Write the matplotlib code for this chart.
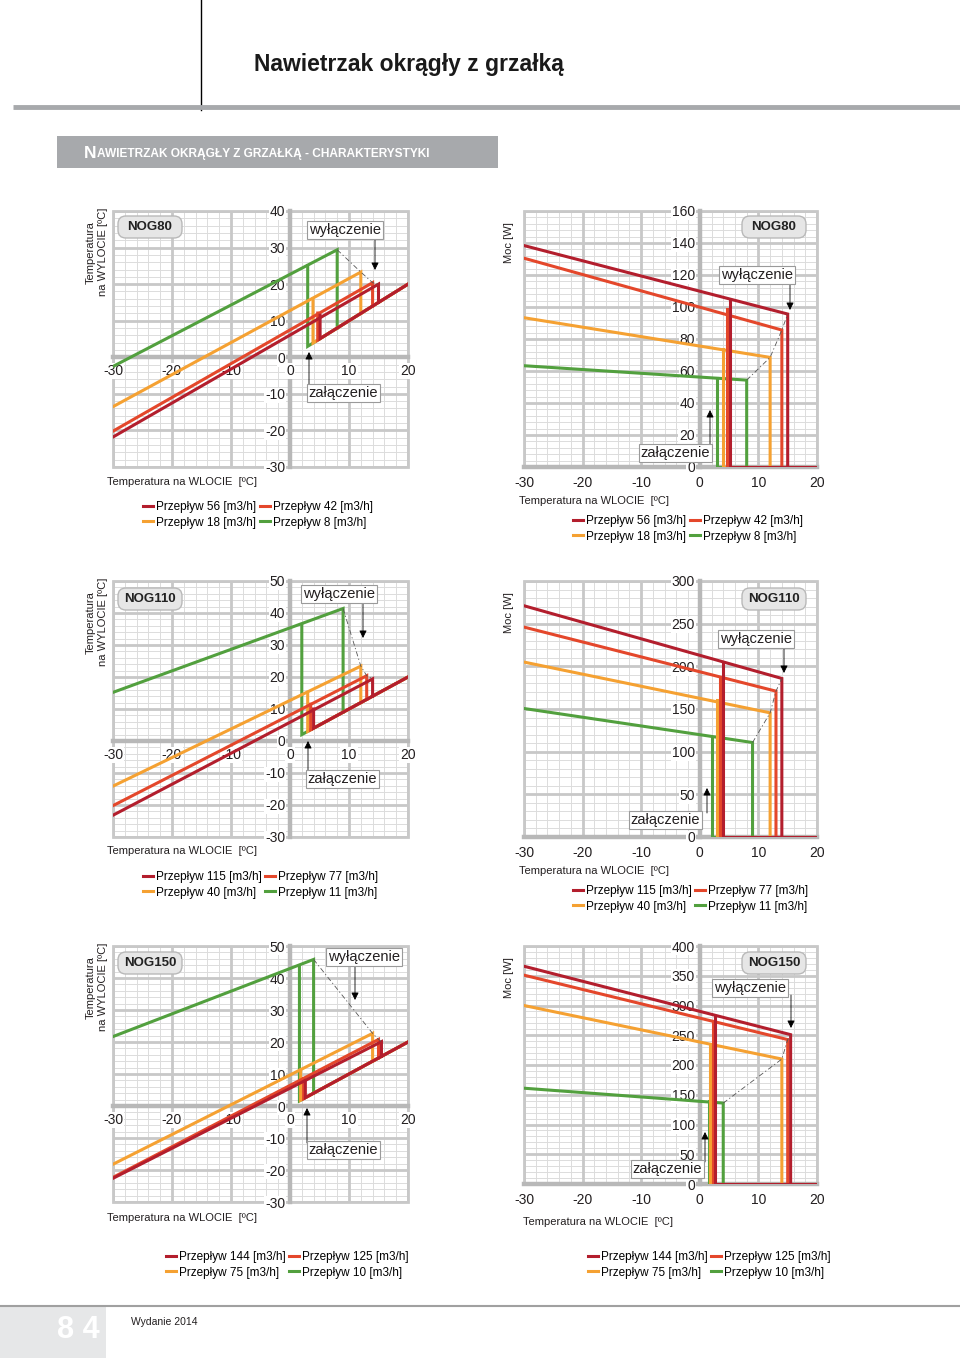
import matplotlib
matplotlib.use("Agg")
import numpy as np
import matplotlib.pyplot as plt
from matplotlib.lines import Line2D
from matplotlib.patches import Rectangle, FancyBboxPatch
from matplotlib.ticker import MultipleLocator

plt.rcParams['font.family'] = ['Liberation Sans', 'DejaVu Sans']
plt.rcParams['axes.unicode_minus'] = False

W, H = 960, 1358

# series colours: flow high -> low
colors = ['#b31e2d', '#e4472b', '#f5a132', '#52a03e']

# NOG80
nog80_flow = [56, 42, 18, 8]
nog80_on = [5.1, 4.7, 3.9, 3.0]      # heater switch-on inlet temp
nog80_off = [15.0, 14.0, 12.0, 8.0]  # heater switch-off inlet temp
nog80_t_start = [-21.8, -20.2, -13.5, -2.5]
nog80_t_off = [20.0, 20.4, 23.3, 29.4]
nog80_t_on = [11.5, 12.1, 16.0, 25.1]
nog80_p_start = [138.4, 130.5, 93.3, 63.3]
nog80_p_off = [95.6, 85.6, 68.5, 54.3]
nog80_p_on = [104.4, 99.0, 73.7, 55.7]

# NOG110
nog110_flow = [115, 77, 40, 11]
nog110_on = [4.0, 3.5, 3.0, 2.0]
nog110_off = [14.0, 13.0, 12.0, 9.0]
nog110_t_start = [-23.2, -20.2, -14.1, 15.2]
nog110_t_off = [19.4, 20.4, 23.4, 41.4]
nog110_t_on = [10.0, 11.5, 15.2, 36.4]
nog110_p_start = [271, 246, 205, 150.6]
nog110_p_off = [185.8, 170.9, 145.5, 110.7]
nog110_p_on = [204.5, 186.5, 160.3, 117.3]

# NOG150
nog150_flow = [144, 125, 75, 10]
nog150_on = [2.6, 2.3, 1.8, 1.6]
nog150_off = [15.5, 15.0, 14.0, 4.0]
nog150_t_start = [-22.6, -22.3, -18.2, 21.7]
nog150_t_off = [20.1, 20.8, 22.7, 45.8]
nog150_t_on = [8.0, 8.6, 11.2, 43.5]
nog150_p_start = [366, 351, 300, 161]
nog150_p_off = [251, 242.7, 210, 136]
nog150_p_on = [282, 273.6, 234, 138.8]

X_MIN, X_MAX = -30, 20
X_LABEL = 'Temperatura na WLOCIE  [ºC]'
Y_LABEL_T = 'Temperatura\nna WYLOCIE [ºC]'
Y_LABEL_P = 'Moc [W]'
GRID = '#c8c8c8'
GRID_MINOR = '#dcdcdc'

fig = plt.figure(figsize=(W / 100, H / 100), dpi=100)


def px_axes(x, y, w, h):
    return fig.add_axes([x / W, 1 - (y + h) / H, w / W, h / H])


def P(x, y):
    return (x / W, 1 - y / H)


def style_axes(ax, ylim, ystep, xpad):
    ax.set_xlim(X_MIN, X_MAX)
    ax.set_ylim(*ylim)
    ax.xaxis.set_major_locator(MultipleLocator(10))
    ax.yaxis.set_major_locator(MultipleLocator(ystep))
    # grid drawn by hand so that tick labels (with white boxes) sit on top of it
    for v in np.arange(X_MIN, X_MAX + 0.01, 2):
        major = abs(v % 10) < 1e-6
        ax.axvline(v, color=GRID if major else GRID_MINOR, lw=2.0 if major else 0.7,
                   zorder=0.7 if major else 0.6)
    for v in np.arange(ylim[0], ylim[1] + 0.01, ystep / 5):
        major = abs(v % ystep) < 1e-6
        ax.axhline(v, color=GRID if major else GRID_MINOR, lw=2.0 if major else 0.7,
                   zorder=0.7 if major else 0.6)
    ax.spines['top'].set_visible(False)
    ax.spines['right'].set_visible(False)
    for s in ['left', 'bottom']:
        ax.spines[s].set_position(('data', 0))
        ax.spines[s].set_color('#b8b8b8')
        ax.spines[s].set_linewidth(3.2)
    ax.xaxis.set_zorder(2.6)
    ax.yaxis.set_zorder(2.6)
    ax.add_patch(Rectangle((0, 0), 1, 1, transform=ax.transAxes, fill=False,
                           ec=GRID, lw=2.0, clip_on=False, zorder=0.8))
    ax.tick_params(which='both', length=0, labelsize=10, colors='#231f20')
    ax.tick_params(axis='x', pad=xpad)
    ax.tick_params(axis='y', pad=3.5)
    for t in ax.get_xticklabels() + ax.get_yticklabels():
        t.set_bbox(dict(facecolor='white', edgecolor='none', pad=0.6))


def draw_temp(ax, on, off, start, y_off, y_on):
    for i in reversed(range(4)):
        ax.plot([X_MIN, off[i], off[i]], [start[i], y_off[i], off[i]],
                color=colors[i], lw=2.2, zorder=3, solid_joinstyle='miter')
        ax.plot([on[i], on[i], X_MAX], [y_on[i], on[i], X_MAX],
                color=colors[i], lw=2.2, zorder=3, solid_joinstyle='miter')
    ax.plot(off[::-1], y_off[::-1], color='#555555', lw=0.6, ls=(0, (6, 3, 1.5, 3)), zorder=4)


def draw_power(ax, on, off, start, p_off, p_on):
    for i in reversed(range(4)):
        ax.plot([X_MIN, off[i], off[i]], [start[i], p_off[i], 0],
                color=colors[i], lw=2.2, zorder=3, solid_joinstyle='miter')
        ax.plot([on[i], on[i], X_MAX], [p_on[i], 0, 0],
                color=colors[i], lw=2.2, zorder=3, solid_joinstyle='miter')
    ax.plot(off[::-1], p_off[::-1], color='#555555', lw=0.6, ls=(0, (6, 3, 1.5, 3)), zorder=4)


def add_legend(ax, flows, x, y):
    order = [0, 2, 1, 3]
    handles = [Line2D([], [], color=colors[i], lw=2.2) for i in order]
    labels = [f'Przepływ {flows[i]} [m3/h]' for i in order]
    ax.legend(handles, labels, loc='upper left', bbox_to_anchor=P(x, y),
              bbox_transform=fig.transFigure, ncol=2, frameon=False, fontsize=8.5,
              handlelength=0.85, handletextpad=0.25, columnspacing=0.3,
              labelspacing=0.3, borderpad=0, borderaxespad=0)


# ---- charts ----
models = [
    # name, flows, on, off, temp data, power data, top px, temp ylim, power ylim, step, power h
    ('NOG80', nog80_flow, nog80_on, nog80_off,
     (nog80_t_start, nog80_t_off, nog80_t_on), (nog80_p_start, nog80_p_off, nog80_p_on),
     211, (-30, 40), (0, 160), 20, 256),
    ('NOG110', nog110_flow, nog110_on, nog110_off,
     (nog110_t_start, nog110_t_off, nog110_t_on), (nog110_p_start, nog110_p_off, nog110_p_on),
     581, (-30, 50), (0, 300), 50, 256),
    ('NOG150', nog150_flow, nog150_on, nog150_off,
     (nog150_t_start, nog150_t_off, nog150_t_on), (nog150_p_start, nog150_p_off, nog150_p_on),
     946, (-30, 50), (0, 400), 50, 238),
]

legend_pos = [((143, 501), (573, 515)), ((143, 871), (573, 885)), ((166, 1251), (588, 1251))]
xlabel_pos = [((107, 482), (519, 501)), ((107, 851), (519, 871)), ((107, 1218), (523, 1222))]

ov = fig.add_axes([0, 0, 1, 1], zorder=10)
ov.set_xlim(0, W)
ov.set_ylim(H, 0)
ov.axis('off')
ov.patch.set_alpha(0)

for k, (name, flows, on, off, tdat, pdat, top, tlim, plim, pstep, ph) in enumerate(models):
    axt = px_axes(113, top, 295, 256)
    style_axes(axt, tlim, 10, 5)
    draw_temp(axt, on, off, *tdat)
    add_legend(axt, flows, *legend_pos[k][0])

    axp = px_axes(524, top, 293, ph)
    style_axes(axp, plim, pstep, 6.5)
    draw_power(axp, on, off, *pdat)
    add_legend(axp, flows, *legend_pos[k][1])

    ov.text(*xlabel_pos[k][0], X_LABEL, fontsize=8, ha='left', va='center', color='#231f20')
    ov.text(*xlabel_pos[k][1], X_LABEL, fontsize=8, ha='left', va='center', color='#231f20')
    ov.text(97, top - 3, Y_LABEL_T, fontsize=8, rotation=90, ha='center', va='top',
            multialignment='center', color='#231f20')
    ov.text(509, top + 11, Y_LABEL_P, fontsize=8, rotation=90, ha='center', va='top', color='#231f20')

    # model badges
    for bx in (118, 742):
        by = [216, 588, 952][k]
        ov.add_patch(FancyBboxPatch((bx, by), 64, 22, boxstyle='round,pad=0,rounding_size=8',
                                    fc='#e6e6e6', ec='#b9b9b9', lw=1.0))
        ov.text(bx + 32, by + 11, name, fontsize=9.5, fontweight='bold', ha='center',
                va='center', color='#222222')

# switch-off / switch-on notes: (text centre), arrow x, arrow from, arrow tip
notes = [
    ('wyłączenie', (345, 230), 375, 238, 270),
    ('załączenie', (343, 393), 309, 385, 352),
    ('wyłączenie', (757, 275), 790, 282, 310),
    ('załączenie', (675, 453), 710, 446, 410),
    ('wyłączenie', (339, 594), 363, 600, 638),
    ('załączenie', (342, 779), 308, 771, 741),
    ('wyłączenie', (756, 639), 784, 645, 673),
    ('załączenie', (665, 820), 707, 813, 788),
    ('wyłączenie', (364, 957), 355, 963, 1000),
    ('załączenie', (343, 1150), 307, 1143, 1108),
    ('wyłączenie', (750, 988), 791, 995, 1028),
    ('załączenie', (667, 1169), 705, 1162, 1132),
]
for txt, (cx, cy), ax_x, y0, y1 in notes:
    ov.annotate('', xy=(ax_x, y1), xytext=(ax_x, y0),
                arrowprops=dict(arrowstyle='-|>', color='black', lw=0.6,
                                mutation_scale=11, shrinkA=0, shrinkB=0))
    ov.text(cx, cy, txt, fontsize=10.5, ha='center', va='center', color='#231f20',
            bbox=dict(boxstyle='square,pad=0.12', fc='white', ec='#9a9a9a', lw=0.8))

# ---- page header ----
ov.plot([201, 201], [0, 110], color='black', lw=1.0)
ov.plot([13, 960], [107, 107], color='#a7a9ac', lw=3.5, solid_capstyle='butt')
ov.text(254, 65, 'Nawietrzak okrągły z grzałką', fontsize=16.5, fontweight='bold',
        ha='left', va='center', color='#1a1a1a')
ov.add_patch(Rectangle((57, 136), 441, 32, fc='#a7a9ac', ec='none'))
ov.text(84, 153, 'N', fontsize=12.5, fontweight='bold', color='white', ha='left', va='center',
        family=['Liberation Sans Narrow', 'Liberation Sans'])
ov.text(97, 154, 'AWIETRZAK OKRĄGŁY Z GRZAŁKĄ - CHARAKTERYSTYKI', fontsize=8.6,
        fontweight='bold', color='white', ha='left', va='center',
        family=['Liberation Sans Narrow', 'Liberation Sans'])

# ---- footer ----
ov.plot([0, 960], [1306, 1306], color='#a0a0a0', lw=1.5)
ov.add_patch(Rectangle((0, 1307), 106, 51, fc='#e6e7e8', ec='none'))
ov.text(78, 1330, '8 4', fontsize=22, fontweight='bold', color='white', ha='center', va='center',
        family=['Liberation Sans Narrow', 'Liberation Sans'])
ov.text(131, 1322, 'Wydanie 2014', fontsize=7.5, color='#231f20', ha='left', va='center',
        family=['Liberation Sans Narrow', 'Liberation Sans'])

fig.savefig('out.png', dpi=100)
